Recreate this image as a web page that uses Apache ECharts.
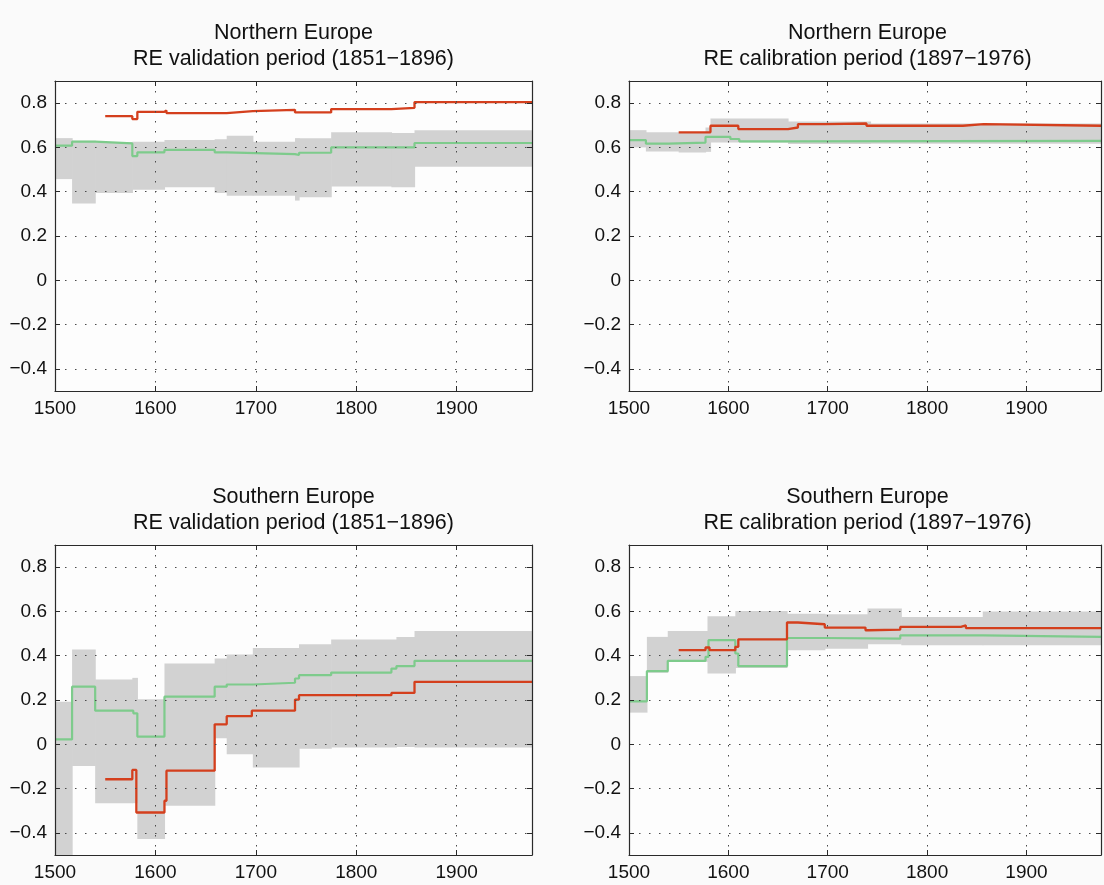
<!DOCTYPE html>
<html><head><meta charset="utf-8">
<script src="https://cdn.jsdelivr.net/npm/echarts@6/dist/echarts.min.js"></script>
<style>html,body{margin:0;padding:0;background:#fafafa}#c{width:1104px;height:885px}</style>
</head><body><div id="c"></div><script>
// ---------- DATA (step functions: breakpoints (n+1) and values (n)) ----------
const xTicks = [1500, 1600, 1700, 1800, 1900];
const yTicks = [-0.4, -0.2, 0, 0.2, 0.4, 0.6, 0.8];

const titlesTop = ['Northern Europe', 'Northern Europe', 'Southern Europe', 'Southern Europe'];
const titlesBottom = ['RE validation period (1851\u22121896)', 'RE calibration period (1897\u22121976)',
                      'RE validation period (1851\u22121896)', 'RE calibration period (1897\u22121976)'];

// Northern Europe, validation
const nvBandYears = [1500, 1517, 1540, 1577, 1609, 1659, 1671, 1697, 1739, 1743, 1775, 1835, 1858, 1975];
const nvBandLo    = [0.457, 0.347, 0.394, 0.409, 0.420, 0.394, 0.382, 0.382, 0.360, 0.375, 0.423, 0.420, 0.513];
const nvBandHi    = [0.642, 0.630, 0.623, 0.626, 0.633, 0.637, 0.653, 0.626, 0.642, 0.642, 0.668, 0.665, 0.678];
const nvGreenYears = [1500, 1517, 1540, 1577, 1582, 1609, 1659, 1671, 1739, 1743, 1775, 1858, 1975];
const nvGreenVals  = [0.608, 0.626, 0.618, 0.561, 0.578, 0.589, 0.578, 0.570, 0.566, 0.576, 0.600, 0.620];
const nvRedYears = [1550, 1577, 1582, 1609, 1611, 1671, 1697, 1739, 1775, 1835, 1858, 1975];
const nvRedVals  = [0.741, 0.728, 0.761, 0.767, 0.755, 0.764, 0.770, 0.758, 0.773, 0.779, 0.805];

// Northern Europe, calibration
const ncBandYears = [1500, 1517, 1550, 1577, 1582, 1660, 1743, 1975];
const ncBandLo    = [0.600, 0.582, 0.577, 0.580, 0.622, 0.615, 0.617];
const ncBandHi    = [0.678, 0.668, 0.665, 0.690, 0.731, 0.717, 0.708];
const ncGreenYears = [1500, 1517, 1540, 1577, 1602, 1611, 1660, 1975];
const ncGreenVals  = [0.633, 0.617, 0.622, 0.648, 0.638, 0.627, 0.630];
const ncRedYears = [1550, 1582, 1610, 1660, 1670, 1697, 1739, 1836, 1857, 1975];
const ncRedVals  = [0.668, 0.698, 0.683, 0.690, 0.705, 0.708, 0.698, 0.705, 0.698];

// Southern Europe, validation
const svBandYears = [1500, 1517, 1540, 1577, 1582, 1609, 1659, 1671, 1697, 1743, 1775, 1840, 1858, 1975];
const svBandLo    = [-0.600, -0.098, -0.266, -0.266, -0.428, -0.278, 0.027, -0.045, -0.105, -0.020, -0.015, -0.012, -0.015];
const svBandHi    = [0.192, 0.428, 0.293, 0.300, 0.203, 0.365, 0.387, 0.405, 0.435, 0.452, 0.473, 0.485, 0.512];
const svGreenYears = [1500, 1517, 1540, 1578, 1582, 1609, 1659, 1671, 1697, 1739, 1743, 1775, 1835, 1840, 1858, 1975];
const svGreenVals  = [0.022, 0.260, 0.152, 0.140, 0.035, 0.215, 0.260, 0.270, 0.278, 0.297, 0.312, 0.324, 0.342, 0.353, 0.377];
const svRedYears = [1550, 1577, 1581, 1609, 1611, 1659, 1671, 1696, 1739, 1743, 1835, 1858, 1975];
const svRedVals  = [-0.158, -0.116, -0.308, -0.255, -0.119, 0.090, 0.127, 0.152, 0.202, 0.222, 0.232, 0.282];

// Southern Europe, calibration
const scBandYears = [1500, 1518, 1539, 1579, 1607, 1659, 1697, 1740, 1774, 1856, 1975];
const scBandLo    = [0.143, 0.323, 0.372, 0.320, 0.345, 0.425, 0.432, 0.452, 0.447, 0.447];
const scBandHi    = [0.308, 0.485, 0.512, 0.578, 0.602, 0.590, 0.587, 0.613, 0.575, 0.600];
const scGreenYears = [1500, 1518, 1539, 1577, 1580, 1607, 1610, 1659, 1697, 1773, 1857, 1975];
const scGreenVals  = [0.194, 0.330, 0.377, 0.395, 0.470, 0.410, 0.353, 0.480, 0.477, 0.492, 0.485];
const scRedYears = [1550, 1577, 1581, 1607, 1610, 1659, 1670, 1697, 1738, 1741, 1773, 1834, 1839, 1975];
const scRedVals  = [0.425, 0.437, 0.425, 0.440, 0.474, 0.550, 0.542, 0.527, 0.515, 0.518, 0.530, 0.537, 0.525];

// ---------- LAYOUT ----------
const panels = [
  {left: 55,  top: 81,  band: [nvBandYears, nvBandLo, nvBandHi], green: [nvGreenYears, nvGreenVals], red: [nvRedYears, nvRedVals], tY: 33},
  {left: 629, top: 81,  band: [ncBandYears, ncBandLo, ncBandHi], green: [ncGreenYears, ncGreenVals], red: [ncRedYears, ncRedVals], tY: 33},
  {left: 55,  top: 545, band: [svBandYears, svBandLo, svBandHi], green: [svGreenYears, svGreenVals], red: [svRedYears, svRedVals], tY: 497},
  {left: 629, top: 545, band: [scBandYears, scBandLo, scBandHi], green: [scGreenYears, scGreenVals], red: [scRedYears, scRedVals], tY: 497}
];
const W = 477, H = 310;
const FONT = '"Liberation Sans", Arial, Helvetica, sans-serif';
const axisColor = '#2a2a2a';
const gridLineStyle = {color: '#4a4a4a', width: 1, type: [1.5, 8.5]};

function stepData(years, vals) {
  const d = [];
  for (let i = 0; i < vals.length; i++) d.push([years[i], vals[i]]);
  d.push([years[years.length - 1], vals[vals.length - 1]]);
  return d;
}
function bandData(years, lo, hi) {
  const d = [];
  for (let i = 0; i < lo.length; i++) d.push([years[i], lo[i], years[i + 1], hi[i]]);
  return d;
}
function yFmt(v) {
  const t = Math.round(v * 10);
  if (t % 2 !== 0) return '';
  if (t === 0) return '0';
  return (t / 10).toFixed(1).replace('-', '\u2212');
}
function xFmt(v) { return (Math.round(v) % 100 === 0) ? String(Math.round(v)) : ''; }

const grid = [], xAxis = [], yAxis = [], series = [], graphic = [];
panels.forEach((p, i) => {
  grid.push({left: p.left, top: p.top, width: W, height: H, containLabel: false, show: true,
             backgroundColor: '#fdfdfd', borderWidth: 0});
  const xBase = {gridIndex: i, type: 'value', min: 1500, max: 1975, interval: 100, z: 10,
    axisLine: {show: true, onZero: false, lineStyle: {color: axisColor, width: 1.2}},
    axisTick: {show: true, inside: true, length: 5, lineStyle: {color: axisColor}}};
  xAxis.push(Object.assign({}, xBase, {position: 'bottom',
    axisLabel: {show: true, formatter: xFmt, fontSize: 19, color: '#111', fontFamily: FONT, margin: 8},
    splitLine: {show: true, lineStyle: gridLineStyle}}));
  xAxis.push(Object.assign({}, xBase, {position: 'top', axisLabel: {show: false}, splitLine: {show: false}}));
  const yBase = {gridIndex: i, type: 'value', min: -0.5, max: 0.9, splitNumber: 7, z: 10,
    axisLine: {show: true, onZero: false, lineStyle: {color: axisColor, width: 1.2}},
    axisTick: {show: true, inside: true, length: 5, lineStyle: {color: axisColor}}};
  yAxis.push(Object.assign({}, yBase, {position: 'left',
    axisLabel: {show: true, formatter: yFmt, fontSize: 19, color: '#111', fontFamily: FONT, margin: 8},
    splitLine: {show: true, lineStyle: gridLineStyle}}));
  yAxis.push(Object.assign({}, yBase, {position: 'right', axisLabel: {show: false}, splitLine: {show: false}}));

  const xi = 2 * i, yi = 2 * i;
  series.push({
    type: 'custom', xAxisIndex: xi, yAxisIndex: yi, clip: true, z: 1, silent: true,
    data: bandData(p.band[0], p.band[1], p.band[2]),
    encode: {x: [0, 2], y: [1, 3]},
    renderItem: function (params, api) {
      const a = api.coord([api.value(0), api.value(3)]);
      const b = api.coord([api.value(2), api.value(1)]);
      const cs = params.coordSys;
      const r = echarts.graphic.clipRectByRect(
        {x: a[0], y: a[1], width: b[0] - a[0] + 0.6, height: b[1] - a[1]},
        {x: cs.x, y: cs.y, width: cs.width, height: cs.height});
      return r && {type: 'rect', shape: r, style: {fill: '#d2d2d2'}};
    }
  });
  series.push({type: 'line', xAxisIndex: xi, yAxisIndex: yi, step: 'end', showSymbol: false, symbol: 'none',
    clip: true, z: 3, silent: true, data: stepData(p.green[0], p.green[1]),
    lineStyle: {color: '#7ecb8c', width: 2.2}});
  series.push({type: 'line', xAxisIndex: xi, yAxisIndex: yi, step: 'end', showSymbol: false, symbol: 'none',
    clip: true, z: 4, silent: true, data: stepData(p.red[0], p.red[1]),
    lineStyle: {color: '#d43f1d', width: 2.3}});

  const cx = p.left + W / 2;
  graphic.push({type: 'text', x: cx, y: p.tY, style: {text: titlesTop[i], align: 'center', verticalAlign: 'middle',
    font: '21.5px ' + FONT, fill: '#111'}});
  graphic.push({type: 'text', x: cx, y: p.tY + 26, style: {text: titlesBottom[i], align: 'center', verticalAlign: 'middle',
    font: '21.5px ' + FONT, fill: '#111'}});
});

const chart = echarts.init(document.getElementById('c'), null, {renderer: 'canvas'});
chart.setOption({backgroundColor: '#fafafa', animation: false, grid, xAxis, yAxis, series, graphic});
</script></body></html>
